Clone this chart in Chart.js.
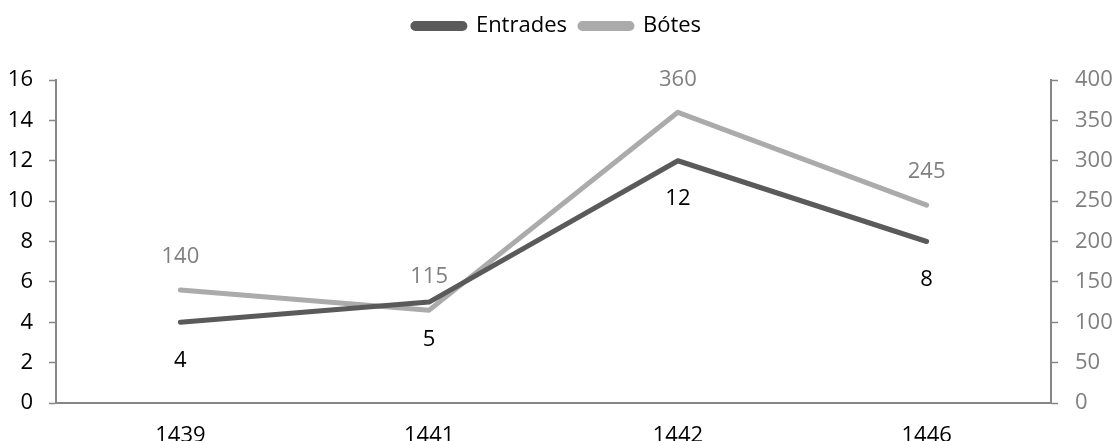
<!DOCTYPE html>
<html>
<head>
<meta charset="utf-8">
<script src="https://cdn.jsdelivr.net/npm/chart.js@4.4.1/dist/chart.umd.min.js"></script>
<style>
  html, body { margin: 0; padding: 0; background: #fff; }
  #wrap { width: 1114px; height: 441px; }
</style>
</head>
<body>
<div id="wrap"><canvas id="chart"></canvas></div>
<script>
const years = ['1439', '1441', '1442', '1446'];
const entrades = [4, 5, 12, 8];
const botes = [140, 115, 360, 245];

const FONT = { family: "'Open Sans', sans-serif", size: 22 };
const AXIS = '#868686';

// prints each point's value above or below it
const valueLabels = {
  id: 'valueLabels',
  afterDatasetsDraw(chart) {
    const ctx = chart.ctx;
    chart.data.datasets.forEach((ds, i) => {
      const meta = chart.getDatasetMeta(i);
      const lab = ds.valueLabel;
      if (!lab) return;
      ctx.save();
      ctx.font = FONT.size + 'px ' + FONT.family;
      ctx.fillStyle = lab.color;
      ctx.textAlign = 'center';
      ctx.textBaseline = 'middle';
      meta.data.forEach((pt, j) => {
        ctx.fillText(ds.data[j], pt.x, pt.y + lab.offset);
      });
      ctx.restore();
    });
  }
};

// extra room between the legend and the plot
const legendSpace = {
  id: 'legendSpace',
  beforeUpdate(chart) {
    const lg = chart.legend;
    if (!lg || lg._spaced) return;
    const fit = lg.fit;
    lg.fit = function () { fit.call(this); this.height += 33; };
    lg._spaced = true;
  }
};

new Chart(document.getElementById('chart'), {
  type: 'line',
  data: {
    labels: years,
    datasets: [
      {
        label: 'Entrades',
        data: entrades,
        yAxisID: 'y',
        borderColor: '#5a5a5a',
        backgroundColor: '#5a5a5a',
        borderWidth: 5,
        borderJoinStyle: 'round',
        borderCapStyle: 'round',
        pointRadius: 0,
        tension: 0,
        valueLabel: { color: '#000', offset: 38 }
      },
      {
        label: 'Bótes',
        data: botes,
        yAxisID: 'y1',
        borderColor: '#ababab',
        backgroundColor: '#ababab',
        borderWidth: 5,
        borderJoinStyle: 'round',
        borderCapStyle: 'round',
        pointRadius: 0,
        tension: 0,
        valueLabel: { color: '#808080', offset: -33 }
      }
    ]
  },
  options: {
    responsive: true,
    maintainAspectRatio: false,
    animation: false,
    layout: { padding: { top: 2, right: 0, bottom: 0, left: 0 } },
    plugins: {
      tooltip: { enabled: false },
      legend: {
        position: 'top',
        labels: {
          boxWidth: 52,
          boxHeight: 5,
          useBorderRadius: true,
          borderRadius: 2.5,
          padding: 13,
          color: '#000',
          font: FONT
        }
      }
    },
    scales: {
      x: {
        offset: true,
        grid: { display: false, drawTicks: false },
        border: { color: AXIS, width: 2 },
        ticks: { color: '#000', font: FONT, padding: 20 },
        afterFit(s) { s.height = 38; }
      },
      y: {
        position: 'left',
        min: 0,
        max: 16,
        ticks: { stepSize: 2, color: '#000', font: FONT, padding: 16 },
        grid: { drawOnChartArea: false, tickLength: 7, tickColor: AXIS, tickWidth: 1.5 },
        border: { color: AXIS, width: 2 },
        afterFit(s) { s.width = 56; }
      },
      y1: {
        position: 'right',
        min: 0,
        max: 400,
        ticks: { stepSize: 50, color: '#7f7f7f', font: FONT, padding: 17 },
        grid: { drawOnChartArea: false, tickLength: 7, tickColor: AXIS, tickWidth: 1.5 },
        border: { color: AXIS, width: 2 },
        afterFit(s) { s.width = 63; }
      }
    }
  },
  plugins: [valueLabels, legendSpace]
});
</script>
</body>
</html>
